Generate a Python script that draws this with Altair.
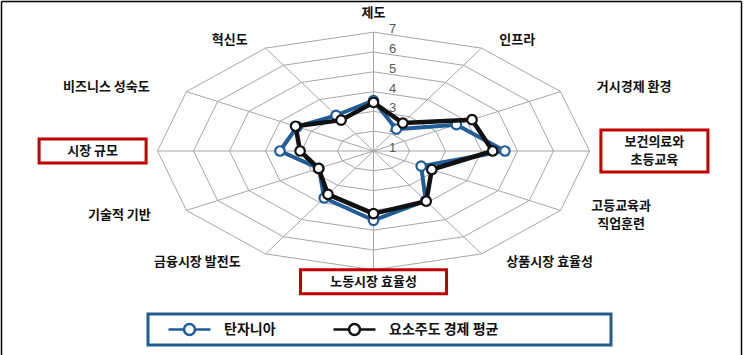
import altair as alt
import pandas as pd

# ---------------- data ----------------
categories = ["제도", "인프라", "거시경제 환경", "보건의료와\n초등교육", "고등교육과\n직업훈련",
              "상품시장 효율성", "노동시장 효율성", "금융시장 발전도", "기술적 기반",
              "시장 규모", "비즈니스 성숙도", "혁신도"]
tanzania = [3.55, 2.27, 3.66, 4.65, 2.53, 3.90, 4.50, 3.74, 2.75, 3.60, 3.45, 3.08]
factor_average = [3.45, 2.63, 4.16, 4.31, 2.87, 3.93, 4.16, 3.53, 2.76, 3.04, 3.50, 2.80]
series_names = ["탄자니아", "요소주도 경제 평균"]
ring_values = [1, 2, 3, 4, 5, 6, 7]
boxed_labels = ["보건의료와\n초등교육", "노동시장 효율성", "시장 규모"]

# ---------------- layout / style ----------------
W, H = 744, 355
CX, CY = 373.5, 151.0      # pixel position of the radar centre
UX, UY = 36.0, 19.8        # pixels per value unit (horizontal / vertical)
V0 = ring_values[0]
VMAX = ring_values[-1]
FONT = "Noto Sans CJK KR"
FS = 13
LH = 18
series_colors = ["#1F5C99", "#111111"]
GRID = "#A6A6A6"
RED = "#C00000"

x_scale = alt.Scale(domain=[-CX / UX, (W - CX) / UX], nice=False, zero=False)
y_scale = alt.Scale(domain=[-(H - CY) / UY, CY / UY], nice=False, zero=False)
n = len(categories)
step = f"(2*PI/{n})"

# ---------------- tables ----------------
series_rows = []
for name, vals in zip(series_names, [tanzania, factor_average]):
    for i, v in enumerate(vals + vals[:1]):
        series_rows.append({"series": name, "idx": i, "value": v})
series_df = pd.DataFrame(series_rows)

ring_df = pd.DataFrame([{"ring": r, "idx": i} for r in ring_values[1:] for i in range(n + 1)])
spoke_df = pd.DataFrame({"idx": list(range(n)), "category": categories})
label_df = pd.DataFrame({"idx": list(range(n)), "label": categories})
tick_df = pd.DataFrame({"ring": ring_values})


def X(field):
    return alt.X(f"{field}:Q", scale=x_scale, axis=None)


def Y(field):
    return alt.Y(f"{field}:Q", scale=y_scale, axis=None)


# grid rings
rings = alt.Chart(ring_df).transform_calculate(
    theta=f"datum.idx*{step}",
    x=f"(datum.ring-{V0})*sin(datum.theta)",
    y=f"(datum.ring-{V0})*cos(datum.theta)",
).mark_line(color=GRID, strokeWidth=1).encode(
    x=X("x"), y=Y("y"), detail="ring:N", order="idx:Q"
)

# spokes
spokes = alt.Chart(spoke_df).transform_calculate(
    theta=f"datum.idx*{step}",
    x0="0", y0="0",
    x1=f"({VMAX}-{V0})*sin(datum.theta)",
    y1=f"({VMAX}-{V0})*cos(datum.theta)",
).mark_rule(color=GRID, strokeWidth=1).encode(
    x=X("x0"), y=Y("y0"), x2="x1:Q", y2="y1:Q"
)

# ring value labels
ticks = alt.Chart(tick_df).transform_calculate(
    x0="0", y=f"datum.ring-{V0}"
).mark_text(font="Liberation Sans", fontSize=13, color="#595959", dx=19, dy=-3,
            align="center", baseline="middle").encode(
    x=X("x0"), y=Y("y"), text="ring:Q"
)

# series
color = alt.Color(
    "series:N",
    scale=alt.Scale(domain=series_names, range=series_colors),
    legend=alt.Legend(
        orient="none", legendX=167, legendY=307, direction="horizontal", title=None,
        symbolType="M-1,0L-0.26,0M0.26,0L1,0M-0.26,0A0.26,0.26,0,1,1,0.26,0A0.26,0.26,0,1,1,-0.26,0Z",
        symbolSize=1764, symbolStrokeWidth=2.5, symbolFillColor="white",
        labelFont=FONT, labelFontSize=14, labelFontWeight="bold", labelColor="#111111",
        labelOffset=12, columnPadding=52,
    ),
)
base = alt.Chart(series_df).transform_calculate(
    theta=f"datum.idx*{step}",
    x=f"(datum.value-{V0})*sin(datum.theta)",
    y=f"(datum.value-{V0})*cos(datum.theta)",
)
series_layers = []
for name, sw in zip(series_names, [4.0, 4.5]):
    b = base.transform_filter(alt.datum.series == name)
    series_layers.append(
        b.mark_line(strokeWidth=sw, strokeJoin="round").encode(
            x=X("x"), y=Y("y"), order="idx:Q", color=color
        )
    )
    series_layers.append(
        b.transform_filter(alt.datum.idx < n).mark_point(
            shape="circle", size=90, filled=True, fill="white", strokeWidth=2.2, opacity=1
        ).encode(
            x=X("x"), y=Y("y"),
            stroke=alt.Stroke("series:N", scale=alt.Scale(domain=series_names, range=series_colors), legend=None),
        )
    )

# category labels (placed just outside the outer ring, pushed out by half their width)
lab = alt.Chart(label_df).transform_calculate(
    theta=f"datum.idx*{step}",
    s="sin(datum.theta)",
    c="cos(datum.theta)",
    lines="split(datum.label, '\\n')",
    nl="length(datum.lines)",
    ml="max(length(datum.lines[0]), datum.nl > 1 ? length(datum.lines[1]) : 0)",
    wpx=f"datum.ml*{FS}",
    side="datum.s > 0.01 ? 1 : (datum.s < -0.01 ? -1 : 0)",
    ry="datum.side == 0 ? (datum.c > 0 ? 6.95 : 6.6) : 6.45",
    lx=f"6.9*datum.s + datum.side*datum.wpx/2/{UX}",
    ly="datum.ry*datum.c",
    bx1=f"datum.lx - (datum.wpx/2 + 21)/{UX}",
    bx2=f"datum.lx + (datum.wpx/2 + 21)/{UX}",
    by1=f"datum.ly - (datum.nl*{LH}/2 + 3)/{UY}",
    by2=f"datum.ly + (datum.nl*{LH}/2 + 3)/{UY}",
)
boxes = lab.transform_filter(alt.FieldOneOfPredicate(field="label", oneOf=boxed_labels)).mark_rect(
    fill="white", stroke=RED, strokeWidth=3
).encode(x=X("bx1"), x2="bx2:Q", y=Y("by1"), y2="by2:Q")

labels = lab.transform_flatten(["lines"], ["line"]).transform_window(
    ln="row_number()", groupby=["idx"]
).transform_calculate(
    ty=f"datum.ly + ((datum.nl + 1)/2 - datum.ln)*{LH}/{UY}"
).mark_text(
    font=FONT, fontSize=FS, fontWeight="bold", color="#111111", align="center",
    baseline="middle"
).encode(x=X("lx"), y=Y("ty"), text="line:N")

# frame and legend box
frame_left = alt.Chart().mark_rule(color="#000000", strokeWidth=1.5).encode(
    x=alt.value(1.5), y=alt.value(1.5), y2=alt.value(H))
frame_top = alt.Chart().mark_rule(color="#000000", strokeWidth=1.5).encode(
    x=alt.value(1.5), x2=alt.value(741.5), y=alt.value(1.5))
frame_right = alt.Chart().mark_rule(color="#000000", strokeWidth=1.5).encode(
    x=alt.value(741.5), y=alt.value(1.5), y2=alt.value(H))
legend_box = alt.Chart().mark_rect(fill="transparent", stroke="#1F5C8F", strokeWidth=3).encode(
    x=alt.value(148), x2=alt.value(611), y=alt.value(314), y2=alt.value(345))

chart = alt.layer(
    rings, spokes, ticks, *series_layers, boxes, labels,
    frame_left, frame_top, frame_right, legend_box,
).properties(
    width=W, height=H, padding=0, autosize=alt.AutoSizeParams(type="none"), background="white"
).configure_view(stroke=None)

chart.save("out.html", embed_options={"renderer": "svg", "actions": False})
